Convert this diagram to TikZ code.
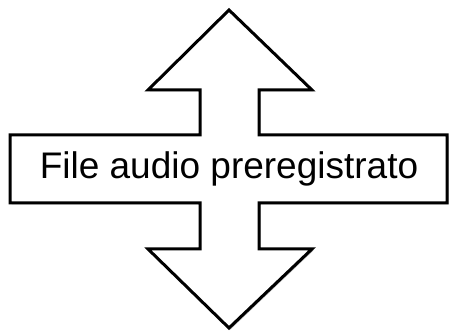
\documentclass[tikz,border=0pt]{standalone}
\usepackage{fontspec}
\setmainfont{Liberation Sans}
\usetikzlibrary{shadows}
\begin{document}
\begin{tikzpicture}[x=1pt,y=-1pt,
  crossshape/.style={draw=black,line width=3pt,fill=white,line join=miter,
    drop shadow={shadow xshift=1.5pt,shadow yshift=-1.5pt,fill=black,opacity=0.25}},
  lbl/.style={font=\fontsize{37}{40}\selectfont,inner sep=0pt}]
\useasboundingbox (0,0) rectangle (450,331);
\draw[crossshape] (229,10) -- (312,90) -- (259,90) -- (259,135) -- (447,135)
  -- (447,203) -- (259,203) -- (259,249) -- (312,249) -- (229,328)
  -- (148,249) -- (200,249) -- (200,203) -- (10,203) -- (10,135)
  -- (200,135) -- (200,90) -- (148,90) -- cycle;
\node[lbl] (t) at (229,169) {File audio preregistrato};
\end{tikzpicture}
\end{document}
